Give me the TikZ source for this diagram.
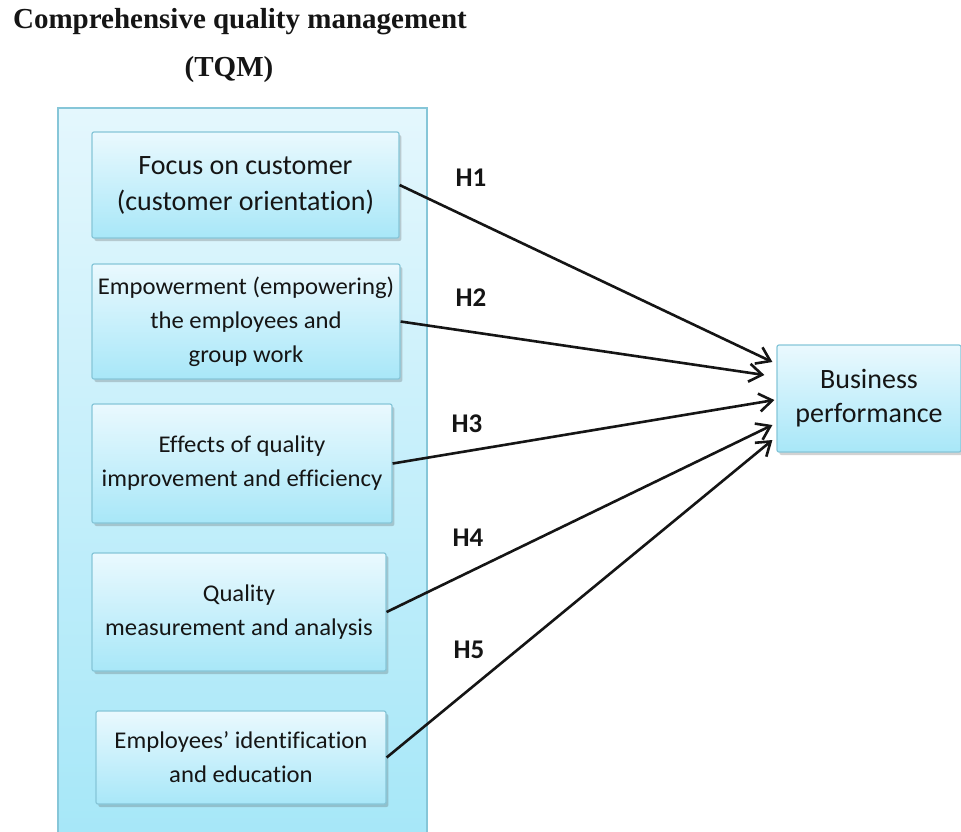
\documentclass[tikz,border=0pt]{standalone}
\usepackage{fontspec}
\setmainfont{Liberation Serif}
\newfontfamily\bodyfont[Ligatures=NoCommon]{Carlito}
\newfontfamily\narrowfont[FakeStretch=1.03, Ligatures=NoCommon]{Carlito}
\usetikzlibrary{arrows.meta, calc, shadows}
\definecolor{tqInk}{HTML}{151515}
\definecolor{tqEdge}{HTML}{86C6D8}
\definecolor{tqTop}{HTML}{EAF9FE}
\definecolor{tqBot}{HTML}{A8E7F8}
\definecolor{tqPanelTop}{HTML}{E4F7FD}
\definecolor{tqPanelBot}{HTML}{A6E7F8}
\tikzset{
  factor/.style={
    draw=tqEdge, line width=0.6pt, rounded corners=1pt,
    top color=tqTop, bottom color=tqBot, align=center,
    inner sep=2pt, text=tqInk,
    font=\narrowfont\fontsize{12}{17}\selectfont,
    drop shadow={shadow xshift=1.2pt, shadow yshift=-1.5pt, opacity=0.25, fill=black!70}
  },
  bigfactor/.style={factor, font=\bodyfont\fontsize{14}{18}\selectfont},
  panel/.style={draw=tqEdge, line width=0.8pt, top color=tqPanelTop, bottom color=tqPanelBot},
  hyp/.style={font=\bodyfont\bfseries\fontsize{13.5}{16}\selectfont, text=tqInk, inner sep=1pt},
  title/.style={font=\bfseries\fontsize{14.5}{17}\selectfont, text=tqInk, inner sep=1pt},
  flow/.style={-{Straight Barb[length=6.5pt, width=9pt, line width=1.3pt]}, line width=1.3pt, draw=tqInk},
}

\begin{document}
\begin{tikzpicture}[x=0.5pt, y=-0.5pt]
  \useasboundingbox (0,0) rectangle (961,831);

  \node[title] (ttl) at (240,22) {Comprehensive quality management};
  \node[title] (abbr) at (229,70) {(TQM)};

  % the TQM panel runs off the bottom edge
  \node[panel, minimum width=184.5pt, minimum height=366pt] (tqm) at (242.5,474) {};

  \node[bigfactor, minimum width=153.5pt, minimum height=53pt] (foc) at (245.5,185)
    {Focus on customer\\(customer orientation)};
  \node[factor, minimum width=154pt, minimum height=57.5pt] (emp) at (246,321.5)
    {Empowerment (empowering)\\the employees and\\group work};
  \node[factor, minimum width=150pt, minimum height=59.5pt] (eff) at (242,463.5)
    {Effects of quality\\improvement and efficiency};
  \node[factor, minimum width=147pt, minimum height=59pt] (qm) at (239,612)
    {Quality\\measurement and analysis};
  \node[factor, minimum width=145pt, minimum height=46.5pt] (edu) at (241,757.5)
    {Employees’ identification\\and education};

  \node[bigfactor, font=\bodyfont\fontsize{14}{17}\selectfont,
        minimum width=92pt, minimum height=53.5pt] (bp) at (869,398.5)
    {Business\\performance};

  \node[hyp] (h1) at (471,178) {H1};
  \node[hyp] (h2) at (471,298) {H2};
  \node[hyp] (h3) at (467,424) {H3};
  \node[hyp] (h4) at (468,538) {H4};
  \node[hyp] (h5) at (469,650) {H5};

  \draw[flow] (foc.east) -- ($(bp.west)+(-4,-36.5)$);
  \draw[flow] (emp.east) -- ($(bp.west)+(-12,-23.5)$);
  \draw[flow] (eff.east) -- ($(bp.west)+(-2,1.5)$);
  \draw[flow] (qm.east)  -- ($(bp.west)+(-4,26.5)$);
  \draw[flow] (edu.east) -- ($(bp.west)+(-4,41.5)$);
\end{tikzpicture}
\end{document}
